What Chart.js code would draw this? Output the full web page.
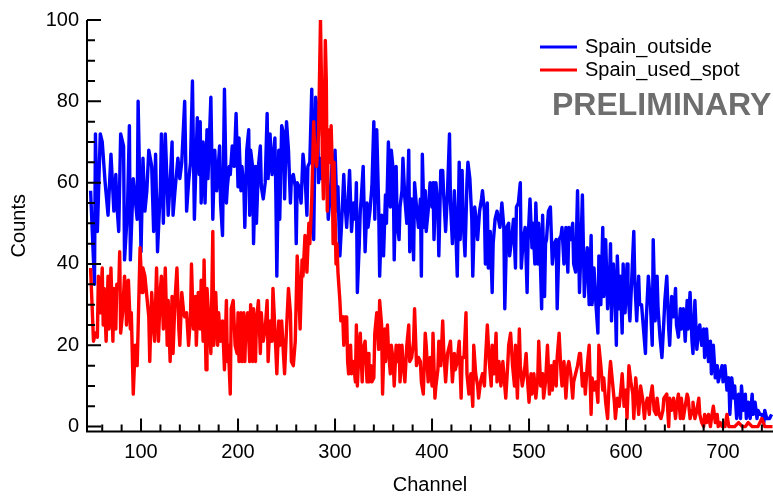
<!DOCTYPE html>
<html>
<head>
<meta charset="utf-8">
<script src="https://cdn.jsdelivr.net/npm/chart.js@4.4.1/dist/chart.umd.min.js"></script>
<style>
  html, body { margin: 0; padding: 0; background: #fff; }
  #wrap { width: 773px; height: 497px; }
</style>
</head>
<body>
<div id="wrap"><canvas id="spectrum" width="773" height="497"></canvas></div>
<script>
// series names, same order as the legend
const seriesNames = ['Spain_outside', 'Spain_used_spot'];

// Spain_outside (blue) - channel / counts
const outsideChannel = [
  48,52,53,55,58,60,63,66,69,72, 74,75,77,79,82,83,86,88,89,92, 94,96,97,100,102,104,106,108,111,113,
  115,117,120,121,123,125,128,130,132,133, 135,138,140,142,145,147,149,151,153,155, 158,160,161,
  162,164,166,168,169,172,174,176,178,181, 182,184,186,188,189,191,192,194,196,198,
  200,201,203,204,206,207,209,211,212,213, 215,216,218,219,221,223,224,226,228,230,
  231,233,235,236,238,239,240,242,243,245, 247,248,250,252,254,255,257,259,260,261,
  263,265,266,267,269,271,272,274,276,277, 278,280,282,283,284,
  286,288,290,291,293,295,297,298,300,302, 303,305,307,309,310,312,314,315,317,319,
  321,322,323,325,326,327,329,331,333,334, 336,338,340,341,343,345,346,348,350,352,
  353,355,357,358,360,361,363,364,366,367, 369,370,372,374,376,377,379,381,382,384,
  386,388,389,390,392,393,394,396,398,400, 401,402,
  404,406,407,409,411,412,414,416,418,419, 421,423,424,426,428,429,431,432,434,436,
  437,439,441,442,444,445,447,449,451,452, 454,455,457,458,460,462,463,465,467,468,
  470,472,474,475,477,479,480,482,484,486, 487,489,491,492,494,496,498,499,501,503,
  504,506,507,509,510,511,513,514,516,517, 518,520,522,
  524,526,528,529,531,533,534,536,538,540, 541,543,545,546,548,550,552,553,555,557,
  558,560,562,564,565,567,569,571,572,574, 576,577,579,581,583,584,585,587,589,590,
  591,593,594,596,597,599,601,602,604,606, 608,609,611,613,614,616,618,620,621,623,
  625,627,628,630,632,633,635,637,639,640,
  642,644,645,647,649,651,652,654,656,657, 659,661,663,664,666,668,669,671,673,675,
  676,678,680,681,683,685,687,688,690,692, 694,695,697,699,700,702,704,706,707,709,
  711,712,714,716,718,719,721,723,724,726, 728,730,731,733,735,736,738,740,742,743,
  745,747,748,750
];
const outsideCounts = [
  58,35,72,48,72,70,60,52,67,53, 62,55,48,72,69,41,53,74,41,61, 56,51,80,43,66,53,58,68,64,48,
  67,43,59,72,50,72,52,60,70,52, 58,66,61,65,80,53,60,65,85,51, 76,62,75,
  55,70,55,73,61,81,51,68,58,69, 55,47,83,55,59,64,62,69,64,77,
  59,71,58,64,59,49,68,73,52,68, 64,45,64,50,64,69,59,56,60,77,
  61,72,62,65,71,57,37,68,51,74, 72,56,75,68,55,61,62,59,45,60,
  59,55,61,67,62,52,64,65,83,65, 46,81,77,60,66,
  61,71,62,67,51,57,65,61,68,53, 59,42,51,62,56,49,58,63,48,55,
  51,60,33,45,53,56,64,43,55,49, 53,59,75,51,73,54,37,52,42,57,
  50,70,54,68,63,41,64,50,46,54, 58,66,56,50,68,43,56,41,60,54,
  49,56,37,67,49,58,48,53,60,54, 60,46,
  60,54,42,63,63,57,48,58,72,55, 45,58,52,37,65,46,63,51,42,60,
  65,61,51,37,54,52,46,53,56,58, 53,40,55,39,48,33,45,51,53,53,
  49,55,49,29,49,50,42,46,51,39, 54,55,60,39,46,49,33,46,56,44,
  50,40,55,40,50,46,29,52,32,45, 46,53,54,
  40,45,46,29,46,47,49,40,49,38, 49,46,50,40,38,58,33,40,57,32,
  37,44,30,47,30,39,30,23,42,30, 49,32,46,29,37,45,26,40,30,20,
  42,29,37,23,40,28,40,33,26,37, 48,36,26,37,30,30,24,18,27,37,
  31,20,46,26,37,29,22,17,26,31,
  37,24,20,32,27,34,25,22,29,24, 29,21,31,24,33,21,18,31,19,24,
  25,20,24,17,24,16,21,13,20,12, 15,11,13,15,11,15,9,12,3,12,
  7,10,2,8,2,10,4,8,2,6, 2,8,3,6,2,4,3,3,1,4,
  2,2,2,3
];

// Spain_used_spot (red)
const spotChannel = [
  48,51,53,55,56,58,60,61,62,64, 66,67,69,71,72,74,75,77,78,79, 81,83,84,85,87,89,90,92,94,96,
  97,99,101,102,104,106,108,109,111,113, 114,116,118,120,121,123,125,127,128,130,
  132,133,135,137,139,140,142,144,145,147, 149,151,152,154,156,157,159,161,
  162,164,165,167,168,170,172,174,175,177, 179,180,182,184,186,188,189,190,192,193,
  195,197,199,200,201,203,204,206,207,208, 210,212,213,215,216,218,219,221,223,224,
  226,228,230,231,233,235,236,238,240,242, 243,245,247,248,250,252,254,255,257,259,
  261,262,264,266,267,269,271,273,274,276, 278,279,281,283,
  285,286,287,288,290,291,292,293,294,296, 297,298,299,300,301,302,303,305,306,308,
  309,310,312,313,314,316,317,319,321,322, 323,325,326,328,329,331,333,334,335,337,
  338,340,341,343,345,346,348,349,351,352, 354,355,357,358,360,361,363,365,366,367,
  369,370,372,374,376,377,379,381,382,384, 386,388,389,391,393,394,396,398,400,401,
  403,
  404,406,407,409,411,412,414,416,418,419, 421,423,424,426,428,430,431,433,435,436,
  438,440,442,443,445,447,448,450,452,454, 455,457,459,461,462,464,466,467,469,471,
  473,474,476,478,479,481,483,485,486,488, 490,491,493,495,497,498,500,502,503,505,
  507,509,510,512,514,515,517,519,521,
  523,524,526,528,529,531,533,534,536,538, 540,541,543,545,546,548,550,552,553,555,
  557,558,560,562,564,565,567,569,571,572, 574,576,577,579,581,583,584,586,588,589,
  591,593,595,596,598,600,601,603,605,607, 608,610,612,613,615,617,619,620,622,624,
  625,627,629,631,632,634,636,638,639,
  642,644,645,647,649,651,652,654,656,657, 659,661,663,664,666,668,669,671,673,675,
  676,678,680,681,683,685,687,688,690,692, 694,695,697,699,702,704,706,709,712,716,
  720,723,726,730,736,740,743,751
];
const spotCounts = [
  39,21,23,22,37,28,39,25,34,21, 37,24,39,21,34,24,35,34,43,23, 28,37,34,25,36,24,28,8,20,15,
  24,44,33,39,37,32,27,16,33,24, 21,39,21,34,37,24,39,20,31,16,
  32,18,31,39,24,20,33,28,27,28, 20,27,40,24,32,20,33,24,
  36,21,41,14,34,26,18,48,20,33, 20,28,21,26,14,31,16,20,8,29,
  31,20,18,28,16,28,16,28,16,24, 28,16,30,16,29,16,26,31,18,28,
  21,24,31,16,26,21,34,24,13,26, 20,26,17,13,24,34,28,16,15,21,
  42,37,24,41,37,47,38,50,45,56, 75,68,64,72,
  100,85,65,56,95,85,53,73,65,74, 65,45,65,53,40,45,38,31,26,27,
  20,27,27,16,13,20,13,16,11,25, 10,20,23,11,19,21,11,18,11,15,
  11,12,23,28,19,31,25,8,24,16, 25,19,13,20,16,10,20,16,20,11,
  20,16,11,20,25,16,17,21,29,15, 17,16,11,8,23,20,11,17,10,23,
  7,
  10,14,21,15,26,19,11,18,20,21, 11,18,14,16,21,7,17,17,28,13,
  8,13,5,20,13,10,7,11,13,10, 16,25,16,10,20,13,23,11,16,10,
  16,13,7,15,20,23,15,10,20,7, 24,15,10,13,18,13,6,13,8,13,
  7,12,21,10,13,7,11,20,8,
  15,9,16,10,17,23,13,10,16,7, 15,16,13,7,11,13,15,18,18,10,
  13,8,15,20,3,12,9,11,6,20, 15,9,12,6,2,13,16,11,6,2,
  7,5,10,13,5,9,2,15,11,8, 2,12,6,3,10,7,2,5,7,3,
  7,10,4,3,7,3,2,4,7,
  8,0,7,4,7,2,5,8,2,7, 2,5,8,7,2,4,6,2,4,7,
  3,1,0,3,1,3,0,2,5,1, 3,0,1,0,0,3,0,0,0,1,
  0,0,1,0,0,2,0,0
];

// axis ticks
const xMajorTicks = [100, 200, 300, 400, 500, 600, 700];
const xMinorTicks = [60, 80, 120, 140, 160, 180, 220, 240, 260, 280, 320, 340, 360, 380,
  420, 440, 460, 480, 520, 540, 560, 580, 620, 640, 660, 680, 720, 740];
const yMajorTicks = [0, 20, 40, 60, 80, 100];
const yMinorTicks = [5, 10, 15, 25, 30, 35, 45, 50, 55, 65, 70, 75, 85, 90, 95];

const FONT = 'Liberation Sans, Arial, sans-serif';
const BLUE = '#0000ff';
const RED = '#ff0000';

function toPoints(xs, ys) {
  return xs.map((x, i) => ({ x: x, y: ys[i] }));
}

// ROOT-like frame: only left + bottom axis, ticks point inwards
const frameAxes = {
  id: 'frameAxes',
  afterDraw(chart) {
    const ctx = chart.ctx;
    const a = chart.chartArea;
    const sx = chart.scales.x, sy = chart.scales.y;
    ctx.save();
    ctx.strokeStyle = '#000';
    ctx.lineWidth = 2;
    ctx.beginPath();
    ctx.moveTo(a.left, a.top);
    ctx.lineTo(a.left, a.bottom);
    ctx.lineTo(a.right, a.bottom);
    ctx.stroke();

    ctx.beginPath();
    yMajorTicks.forEach(v => { const p = sy.getPixelForValue(v); ctx.moveTo(a.left, p); ctx.lineTo(a.left + 14, p); });
    yMinorTicks.forEach(v => { const p = sy.getPixelForValue(v); ctx.moveTo(a.left, p); ctx.lineTo(a.left + 8, p); });
    xMajorTicks.forEach(v => { const p = sx.getPixelForValue(v); ctx.moveTo(p, a.bottom); ctx.lineTo(p, a.bottom - 13); });
    xMinorTicks.forEach(v => { const p = sx.getPixelForValue(v); ctx.moveTo(p, a.bottom); ctx.lineTo(p, a.bottom - 7); });
    ctx.stroke();
    ctx.restore();
  }
};

// legend box + PRELIMINARY stamp in the top right corner
const cornerLegend = {
  id: 'cornerLegend',
  afterDraw(chart) {
    const ctx = chart.ctx;
    ctx.save();
    const colours = [BLUE, RED];
    const rows = [47, 70];
    ctx.font = '20px ' + FONT;
    ctx.textBaseline = 'middle';
    ctx.textAlign = 'left';
    seriesNames.forEach((name, i) => {
      ctx.strokeStyle = colours[i];
      ctx.lineWidth = 3;
      ctx.beginPath();
      ctx.moveTo(540, rows[i]);
      ctx.lineTo(577, rows[i]);
      ctx.stroke();
      ctx.fillStyle = '#000';
      ctx.fillText(name, 585, rows[i]);
    });
    ctx.font = 'bold 32px ' + FONT;
    ctx.fillStyle = '#6e6e6e';
    ctx.fillText('PRELIMINARY', 552, 106);
    ctx.restore();
  }
};

new Chart(document.getElementById('spectrum'), {
  type: 'line',
  data: {
    datasets: [
      {
        label: seriesNames[1],
        data: toPoints(spotChannel, spotCounts),
        borderColor: RED,
        backgroundColor: RED,
        borderWidth: 3.4,
        pointRadius: 0,
        tension: 0,
        borderJoinStyle: 'round',
        fill: false
      },
      {
        label: seriesNames[0],
        data: toPoints(outsideChannel, outsideCounts),
        borderColor: BLUE,
        backgroundColor: BLUE,
        borderWidth: 3.4,
        pointRadius: 0,
        tension: 0,
        borderJoinStyle: 'round',
        fill: false
      }
    ]
  },
  options: {
    responsive: false,
    animation: false,
    events: [],
    layout: { padding: { top: 16.7, right: 0, left: 0, bottom: 0 } },
    plugins: {
      legend: { display: false },
      tooltip: { enabled: false }
    },
    scales: {
      x: {
        type: 'linear',
        min: 44.3,
        max: 751.5,
        afterBuildTicks: s => { s.ticks = xMajorTicks.map(v => ({ value: v })); },
        afterFit: s => { s.height = 65.5; },
        grid: { display: false, drawTicks: false },
        border: { display: false },
        ticks: { font: { family: FONT, size: 20 }, color: '#000', padding: 9, maxRotation: 0, autoSkip: false },
        title: { display: true, text: 'Channel', font: { family: FONT, size: 20 }, color: '#000', padding: { top: 0, bottom: 0 } }
      },
      y: {
        type: 'linear',
        min: -1.2,
        max: 100,
        afterBuildTicks: s => { s.ticks = yMajorTicks.map(v => ({ value: v })); },
        afterFit: s => { s.width = 87; },
        grid: { display: false, drawTicks: false },
        border: { display: false },
        ticks: { font: { family: FONT, size: 20 }, color: '#000', padding: 8 },
        title: { display: true, text: 'Counts', font: { family: FONT, size: 20 }, color: '#000', padding: { top: 7, bottom: 0 } }
      }
    }
  },
  plugins: [frameAxes, cornerLegend]
});
</script>
</body>
</html>
